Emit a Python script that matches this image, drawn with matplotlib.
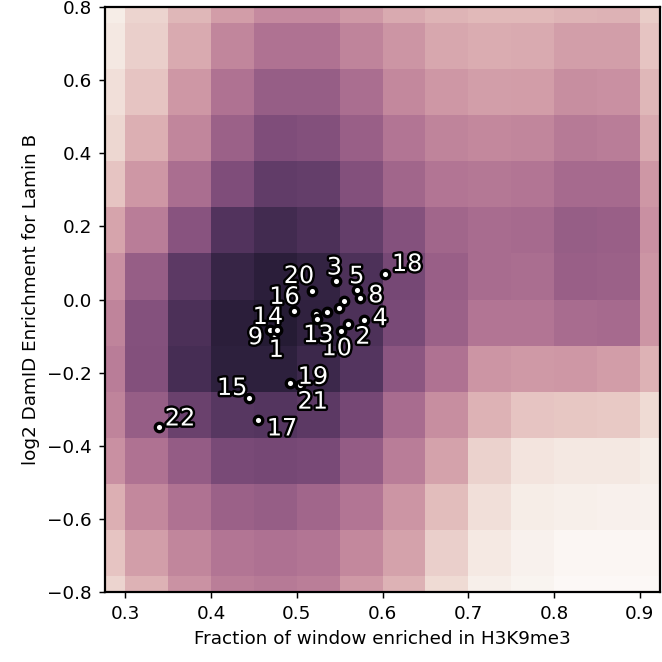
import numpy as np
import matplotlib
matplotlib.use("Agg")
import matplotlib.pyplot as plt
import matplotlib.patheffects as pe
import seaborn as sns

# grid of the density map (cell centres)
x_centers = [0.275, 0.325, 0.375, 0.425, 0.475, 0.525, 0.575,
             0.625, 0.675, 0.725, 0.775, 0.825, 0.875, 0.925]
y_centers = [0.819, 0.693, 0.567, 0.441, 0.315, 0.189, 0.063,
             -0.063, -0.189, -0.315, -0.441, -0.567, -0.693, -0.819]

# relative density per cell, top row first
density = [
    [0.05, 0.14, 0.25, 0.35, 0.42, 0.42, 0.36, 0.30, 0.26, 0.24, 0.24, 0.26, 0.27, 0.17],
    [0.07, 0.16, 0.30, 0.44, 0.52, 0.52, 0.45, 0.38, 0.31, 0.29, 0.30, 0.34, 0.34, 0.20],
    [0.10, 0.20, 0.37, 0.52, 0.62, 0.62, 0.54, 0.43, 0.37, 0.34, 0.35, 0.41, 0.40, 0.25],
    [0.13, 0.28, 0.44, 0.60, 0.70, 0.69, 0.61, 0.51, 0.45, 0.43, 0.44, 0.49, 0.48, 0.30],
    [0.20, 0.37, 0.54, 0.70, 0.80, 0.79, 0.69, 0.58, 0.51, 0.50, 0.51, 0.56, 0.56, 0.37],
    [0.32, 0.48, 0.67, 0.85, 0.90, 0.87, 0.79, 0.68, 0.58, 0.55, 0.56, 0.62, 0.61, 0.40],
    [0.40, 0.62, 0.82, 0.94, 0.98, 0.95, 0.86, 0.73, 0.61, 0.55, 0.54, 0.61, 0.60, 0.38],
    [0.45, 0.68, 0.87, 0.98, 1.00, 0.96, 0.86, 0.72, 0.60, 0.51, 0.51, 0.55, 0.56, 0.38],
    [0.48, 0.69, 0.89, 0.97, 0.97, 0.92, 0.84, 0.66, 0.52, 0.38, 0.36, 0.37, 0.35, 0.27],
    [0.45, 0.62, 0.77, 0.83, 0.84, 0.82, 0.73, 0.55, 0.41, 0.27, 0.20, 0.19, 0.18, 0.12],
    [0.40, 0.52, 0.63, 0.72, 0.73, 0.72, 0.63, 0.48, 0.33, 0.15, 0.08, 0.07, 0.07, 0.05],
    [0.28, 0.43, 0.52, 0.60, 0.62, 0.58, 0.51, 0.38, 0.23, 0.10, 0.05, 0.04, 0.035, 0.03],
    [0.20, 0.34, 0.44, 0.51, 0.53, 0.51, 0.43, 0.33, 0.16, 0.06, 0.03, 0.015, 0.01, 0.01],
    [0.14, 0.27, 0.39, 0.47, 0.49, 0.47, 0.36, 0.27, 0.12, 0.04, 0.02, 0.0, 0.0, 0.0],
]

# labelled points (chromosome windows)
labels = ["1", "2", "3", "4", "5", "6", "7", "8", "9", "10", "11",
          "12", "13", "14", "15", "16", "17", "18", "19", "20", "21", "22"]
frac_h3k9 = [0.474, 0.560, 0.546, 0.579, 0.570, 0.555, 0.549, 0.574, 0.469, 0.552, 0.535,
             0.522, 0.524, 0.477, 0.444, 0.497, 0.455, 0.603, 0.492, 0.518, 0.504, 0.339]
lmnb = [-0.095, -0.068, 0.050, -0.056, 0.026, -0.003, -0.024, 0.004, -0.084, -0.087, -0.034,
        -0.040, -0.053, -0.084, -0.269, -0.032, -0.330, 0.069, -0.228, 0.024, -0.233, -0.350]
hidden = ["6", "7", "11", "12"]

# label offsets in points (dx, dy)
offsets = {"1": (1, -8.5), "2": (8, -6.7), "3": (-1, 7.5), "4": (8.5, 1), "5": (0, 7.5),
           "8": (8.5, 1.5), "9": (-8, -3.8), "10": (-2.5, -9.2), "13": (0.5, -8.8),
           "14": (-5, 7.2), "15": (-9, 5.4), "16": (-5.3, 7.8), "17": (13, -4.5),
           "18": (12, 5.6), "19": (12.5, 3.3), "20": (-7.2, 8), "21": (6.8, -9.2),
           "22": (11.6, 4.9)}

x_centers = np.array(x_centers)
y_centers = np.array(y_centers)
dx = x_centers[1] - x_centers[0]
dy = y_centers[0] - y_centers[1]
x_edges = np.append(x_centers - dx / 2, x_centers[-1] + dx / 2)
y_edges = np.append(y_centers[::-1] - dy / 2, y_centers[0] + dy / 2)

cmap = sns.cubehelix_palette(light=0.975, dark=0.13, hue=0.72, as_cmap=True)

fig = plt.figure(figsize=(5, 5), dpi=132.4)
ax = fig.add_axes([0.1586, 0.1057, 0.8384, 0.8837])

ax.pcolormesh(x_edges, y_edges, np.array(density)[::-1], cmap=cmap, vmin=0, vmax=1)

ax.plot(frac_h3k9, lmnb, 'o', color='white', markeredgecolor='black',
        markersize=4.6, markeredgewidth=1.8, zorder=3)

for lab, xv, yv in zip(labels, frac_h3k9, lmnb):
    if lab in hidden:
        continue
    ax.annotate(lab, (xv, yv), xytext=offsets[lab], textcoords='offset points',
                ha='center', va='center', color='white', fontsize=13, zorder=4,
                path_effects=[pe.withStroke(linewidth=2.6, foreground='black')])

ax.set_xlim(0.2765, 0.9235)
ax.set_ylim(-0.8, 0.8)
ax.set_xticks([0.3, 0.4, 0.5, 0.6, 0.7, 0.8, 0.9])
ax.set_yticks([-0.8, -0.6, -0.4, -0.2, 0.0, 0.2, 0.4, 0.6, 0.8])
ax.set_xlabel('Fraction of window enriched in H3K9me3')
ax.set_ylabel('log2 DamID Enrichment for Lamin B')
for s in ax.spines.values():
    s.set_linewidth(1.2)

fig.savefig('out.png', dpi=132.4)
